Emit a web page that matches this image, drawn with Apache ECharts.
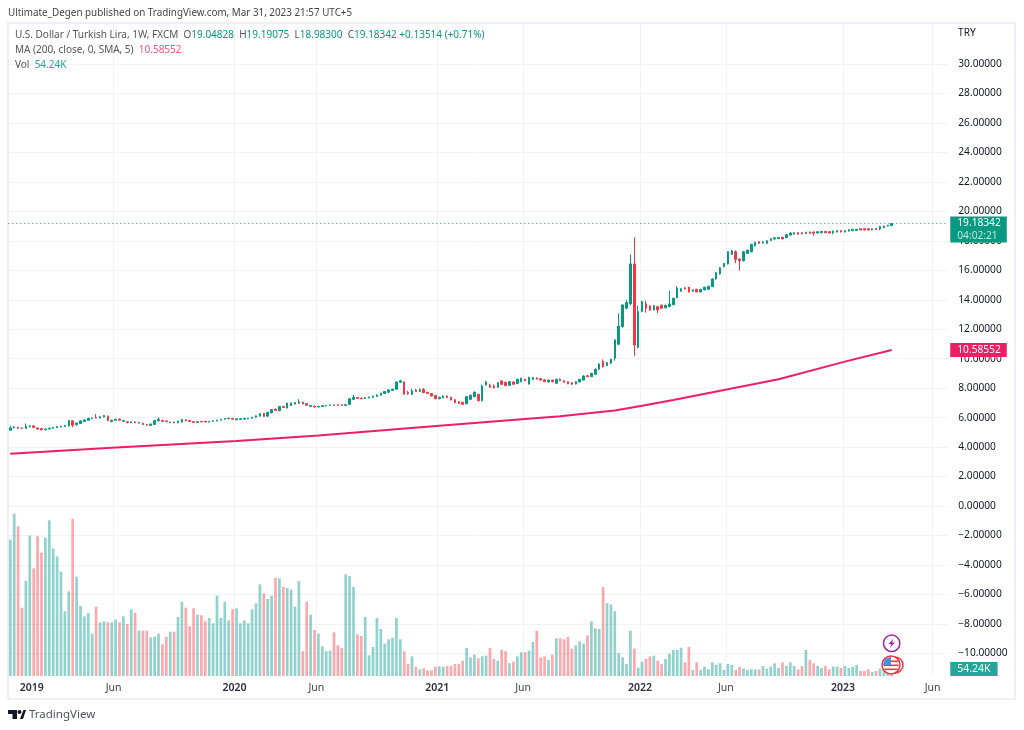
<!DOCTYPE html>
<html>
<head>
<meta charset="utf-8">
<title>USD/TRY</title>
<style>
  html, body { margin: 0; padding: 0; background: #fff; }
  #main { width: 1024px; height: 730px; }
</style>
<script src="https://cdn.jsdelivr.net/npm/echarts@6/dist/echarts.min.js"></script>
</head>
<body>
<div id="main"></div>
<script>
// weekly bars, first bar is the week of 26 Nov 2018
const firstWeek = '2018-11-26'
const slotCount = 241 // bars plus empty space on the right

const opens = [
  5.15,5.30,5.34,5.29,5.27,5.38,5.44,5.30,5.26,5.17,
  5.23,5.28,5.33,5.37,5.40,5.44,5.78,5.52,5.60,5.74,
  5.82,5.93,6.02,5.97,6.04,6.10,5.74,5.82,5.90,5.75,
  5.72,5.65,5.71,5.63,5.62,5.54,5.47,5.54,5.78,5.82,
  5.77,5.65,5.70,5.65,5.70,5.85,5.81,5.73,5.67,5.75,
  5.75,5.70,5.75,5.78,5.83,5.89,5.92,5.94,5.85,5.87,
  5.90,5.91,5.96,6.03,6.10,6.28,6.10,6.33,6.58,6.47,
  6.76,6.65,6.82,6.92,6.98,7.05,6.95,6.76,6.78,6.72,
  6.76,6.79,6.82,6.86,6.87,6.87,6.83,6.90,7.24,7.36,
  7.32,7.30,7.34,7.38,7.44,7.52,7.64,7.72,7.85,7.92,
  8.40,8.42,7.70,7.58,7.88,7.78,7.92,7.72,7.64,7.50,
  7.28,7.34,7.46,7.38,7.22,7.08,7.04,6.94,7.24,7.42,
  7.58,7.15,8.22,8.19,8.15,8.06,8.49,8.40,8.19,8.42,
  8.32,8.44,8.60,8.28,8.60,8.69,8.64,8.57,8.42,8.55,
  8.33,8.60,8.50,8.44,8.37,8.28,8.42,8.55,8.84,8.78,
  8.95,9.28,9.80,9.53,9.69,10.03,10.98,12.18,13.42,13.72,
  16.43,10.77,13.20,13.72,13.58,13.31,13.53,13.63,13.45,13.54,
  13.67,14.15,14.58,14.80,14.85,14.58,14.71,14.53,14.67,14.71,
  14.89,15.41,15.75,16.25,16.43,17.08,17.26,16.76,16.65,17.15,
  17.26,17.67,17.94,17.85,17.83,18.03,18.12,18.15,18.24,18.21,
  18.39,18.46,18.55,18.55,18.49,18.60,18.60,18.53,18.55,18.64,
  18.62,18.55,18.60,18.69,18.60,18.66,18.69,18.71,18.82,18.82,
  18.82,18.74,18.84,18.80,18.90,19.00,19.04828
]
const closes = [
  5.30,5.36,5.28,5.26,5.42,5.44,5.33,5.22,5.17,5.23,
  5.28,5.34,5.39,5.41,5.47,5.80,5.48,5.63,5.78,5.84,
  5.95,5.97,5.97,6.06,6.14,5.80,5.82,5.89,5.82,5.80,
  5.65,5.71,5.65,5.68,5.53,5.49,5.56,5.80,5.88,5.75,
  5.72,5.70,5.64,5.76,5.88,5.78,5.74,5.67,5.72,5.71,
  5.70,5.75,5.79,5.83,5.89,5.94,5.96,5.89,5.92,5.92,
  5.95,5.96,6.03,6.12,6.27,6.08,6.36,6.55,6.49,6.76,
  6.68,6.99,7.00,7.02,7.07,6.93,6.84,6.82,6.72,6.76,
  6.81,6.83,6.86,6.82,6.83,6.83,6.88,7.28,7.38,7.30,
  7.28,7.36,7.40,7.46,7.54,7.66,7.77,7.88,7.93,8.42,
  8.50,7.60,7.62,7.82,7.78,7.90,7.70,7.64,7.47,7.28,
  7.38,7.46,7.36,7.20,7.02,6.97,6.90,7.42,7.52,7.72,
  7.15,8.14,8.42,8.06,8.02,8.37,8.26,8.17,8.44,8.26,
  8.60,8.67,8.51,8.73,8.72,8.62,8.55,8.44,8.55,8.44,
  8.60,8.51,8.40,8.30,8.26,8.44,8.60,8.82,8.78,9.00,
  9.28,9.64,9.46,9.73,9.96,11.27,12.22,13.65,13.81,16.43,
  10.93,13.20,13.87,13.42,13.31,13.60,13.31,13.42,13.63,13.72,
  14.10,14.78,14.74,14.74,14.53,14.67,14.53,14.71,14.85,14.92,
  15.41,15.84,16.17,16.47,17.26,17.31,16.74,16.65,17.26,17.37,
  17.76,17.90,17.83,17.93,18.00,18.14,18.21,18.23,18.13,18.42,
  18.53,18.55,18.46,18.47,18.58,18.51,18.52,18.62,18.64,18.55,
  18.53,18.66,18.69,18.60,18.69,18.75,18.78,18.78,18.74,18.74,
  18.74,18.82,18.76,18.96,19.00,19.06,19.18342
]
const lows = [
  5.12,5.27,5.24,5.22,5.24,5.34,5.30,5.18,5.14,5.14,
  5.20,5.25,5.30,5.34,5.37,5.40,5.35,5.45,5.58,5.70,
  5.80,5.90,5.95,5.94,6.02,5.76,5.68,5.79,5.79,5.72,
  5.62,5.63,5.62,5.60,5.50,5.47,5.45,5.50,5.75,5.72,
  5.70,5.63,5.62,5.62,5.68,5.75,5.72,5.65,5.65,5.69,
  5.68,5.68,5.73,5.76,5.81,5.87,5.90,5.87,5.83,5.85,
  5.88,5.89,5.94,6.01,6.08,6.05,6.08,6.30,6.46,6.44,
  6.65,6.62,6.80,6.90,6.95,6.90,6.80,6.73,6.69,6.69,
  6.73,6.77,6.80,6.79,6.80,6.80,6.80,6.86,7.20,7.27,
  7.25,7.27,7.31,7.35,7.41,7.49,7.61,7.69,7.82,7.89,
  8.36,7.55,7.55,7.55,7.74,7.75,7.66,7.60,7.44,7.25,
  7.25,7.32,7.33,7.17,6.98,6.94,6.88,6.90,7.20,7.38,
  7.10,7.10,8.18,8.02,7.98,8.02,8.22,8.14,8.16,8.23,
  8.28,8.40,8.47,8.24,8.57,8.59,8.52,8.41,8.38,8.40,
  8.30,8.48,8.37,8.27,8.23,8.25,8.40,8.52,8.75,8.75,
  8.92,9.25,9.40,9.48,9.65,9.87,10.93,12.10,13.35,13.62,
  10.19,10.70,13.15,13.13,13.25,13.28,13.10,13.38,13.42,13.50,
  13.63,14.10,14.55,14.70,14.50,14.55,14.50,14.50,14.64,14.68,
  14.85,15.38,15.72,16.20,16.40,17.05,16.48,15.98,16.60,17.10,
  17.22,17.62,17.80,17.82,17.80,18.00,18.09,18.12,18.10,18.18,
  18.36,18.43,18.43,18.44,18.46,18.48,18.35,18.50,18.52,18.52,
  18.50,18.45,18.57,18.57,18.57,18.63,18.66,18.68,18.71,18.71,
  18.71,18.71,18.73,18.72,18.87,18.97,18.983
]
const highs = [
  5.45,5.42,5.38,5.34,5.60,5.50,5.47,5.33,5.29,5.27,
  5.31,5.36,5.41,5.44,5.50,5.84,5.82,5.68,5.82,5.88,
  5.99,6.01,6.24,6.09,6.18,6.14,5.86,5.92,5.93,5.83,
  5.75,5.74,5.74,5.71,5.65,5.57,5.60,5.83,6.02,5.85,
  5.80,5.73,5.72,5.79,5.91,5.88,5.84,5.76,5.74,5.77,
  5.78,5.77,5.81,5.85,5.92,5.96,5.98,5.97,5.94,5.94,
  5.97,5.98,6.05,6.14,6.30,6.32,6.40,6.58,6.60,6.78,
  6.79,7.02,7.03,7.05,7.25,7.08,6.98,6.85,6.81,6.79,
  6.84,6.86,6.89,6.89,6.90,6.90,6.91,7.32,7.55,7.39,
  7.35,7.39,7.43,7.49,7.57,7.69,7.80,7.91,7.96,8.45,
  8.56,8.45,7.82,7.98,7.95,7.98,8.00,7.75,7.67,7.54,
  7.42,7.50,7.50,7.42,7.25,7.12,7.07,7.46,7.56,7.78,
  7.62,8.25,8.50,8.30,8.25,8.42,8.55,8.44,8.48,8.46,
  8.64,8.72,8.64,8.78,8.76,8.73,8.68,8.60,8.58,8.58,
  8.64,8.66,8.53,8.46,8.40,8.47,8.63,8.88,8.90,9.05,
  9.35,9.70,9.95,9.78,10.00,11.32,13.08,13.70,14.00,17.07,
  18.24,13.60,13.95,13.94,13.62,13.65,13.60,13.68,13.66,14.60,
  14.14,14.94,14.78,14.86,14.88,14.70,14.74,14.74,14.88,14.95,
  15.45,15.88,16.22,16.50,17.30,17.40,17.35,16.80,17.30,17.40,
  17.80,17.95,18.00,17.96,18.03,18.17,18.24,18.26,18.27,18.45,
  18.60,18.58,18.58,18.58,18.61,18.63,18.63,18.65,18.67,18.67,
  18.65,18.69,18.72,18.72,18.72,18.78,18.81,18.81,18.85,18.85,
  18.85,18.85,18.87,19.02,19.03,19.09,19.19075
]
// volume in thousands
const volumes = [
  2454,2922,2694,1230,1710,2526,1938,2514,2220,2490,
  2802,2292,2154,1878,1164,1524,2832,1788,1260,1074,
  1134,762,1248,966,984,966,966,1014,966,1074,
  936,1200,1134,816,816,816,696,708,762,570,
  708,798,798,1062,1338,1230,894,1218,1104,1092,
  984,1044,948,1446,1044,1338,1002,1200,1218,948,
  1002,948,1200,1308,1650,1488,1386,1446,1770,1758,
  1602,1584,1554,1248,1710,444,1338,1104,828,762,
  534,444,456,786,552,504,1830,1800,1602,750,
  720,1062,372,522,1044,846,582,660,690,1044,
  660,444,216,354,168,120,138,102,102,168,
  174,168,180,180,216,216,276,504,336,384,
  318,354,366,504,306,276,474,444,228,258,
  354,426,426,456,612,816,336,354,288,384,
  678,678,660,708,492,552,624,582,732,984,
  858,846,1602,1308,1290,1164,414,336,216,816,
  492,150,258,306,354,366,276,216,306,402,
  468,468,510,246,522,108,246,108,168,120,
  246,198,228,108,216,198,108,168,132,108,
  120,120,120,180,132,168,228,144,246,180,
  246,180,120,180,468,288,228,180,144,180,
  120,168,168,144,180,144,168,198,90,90,
  120,72,90,132,108,108,54.24
]
// MA(200) read at a few bars along the line
const maBars = [0, 26, 58, 79, 110, 132, 141, 155, 162, 170, 184, 197, 214, 226]
const maValues = [3.55, 3.96, 4.41, 4.78, 5.45, 5.91, 6.10, 6.48, 6.81, 7.2, 7.92, 8.6, 9.8, 10.58552]

const priceTicks = [-10, -8, -6, -4, -2, 0, 2, 4, 6, 8, 10, 12, 14, 16, 18, 20, 22, 24, 26, 28, 30]
const timeTickBars = [6, 27, 58, 79, 110, 132, 162, 184, 214, 237]
const timeTickLabels = ['2019', 'Jun', '2020', 'Jun', '2021', 'Jun', '2022', 'Jun', '2023', 'Jun']

const lastClose = 19.18342
const lastMa = 10.58552
const lastVolume = 54.24

const green = '#089981'
const red = '#f23645'
const pink = '#ec1e64'
const teal = '#26a69a'
const gridColor = '#f2f3f6'
const fontName = '"Noto Sans", sans-serif'

// week labels for the category axis
const weeks = []
for (let i = 0; i < slotCount; i++) {
  const d = new Date(firstWeek + 'T00:00:00Z')
  d.setUTCDate(d.getUTCDate() + i * 7)
  weeks.push(d.toISOString().slice(0, 10))
}

const candleData = opens.map((o, i) => [o, closes[i], lows[i], highs[i]])
const volumeData = volumes.map((v, i) => ({
  value: v,
  itemStyle: { color: closes[i] >= opens[i] ? 'rgba(38,166,154,0.5)' : 'rgba(247,82,95,0.5)' }
}))
const maData = maBars.map((b, i) => [b, maValues[i]])

const isTimeTick = (index) => timeTickBars.includes(index)

const chart = echarts.init(document.getElementById('main'))

const option = {
  animation: false,
  backgroundColor: '#fff',
  textStyle: { fontFamily: fontName },
  grid: { left: 8.35, top: 24, width: 939.9, height: 652 },
  xAxis: {
    type: 'category',
    data: weeks,
    boundaryGap: true,
    axisLine: { show: false },
    axisTick: { show: false },
    splitLine: {
      show: true,
      interval: (index) => isTimeTick(index),
      showMinLine: false,
      showMaxLine: false,
      lineStyle: { color: gridColor, width: 1 }
    },
    axisLabel: {
      interval: (index) => isTimeTick(index),
      margin: 7,
      padding: [0, 4, 0, 0],
      color: '#40434d',
      fontSize: 10.5,
      fontFamily: fontName,
      hideOverlap: false,
      formatter: (value, index) => {
        const t = timeTickLabels[timeTickBars.indexOf(index)]
        return t === 'Jun' ? t : '{year|' + t + '}'
      },
      rich: { year: { color: '#2a2e39', fontSize: 10.5, fontWeight: 600, fontFamily: fontName } }
    }
  },
  yAxis: [
    {
      type: 'value',
      position: 'right',
      min: -11.54,
      max: 32.72,
      axisLine: { show: false },
      axisTick: { show: false, customValues: priceTicks },
      splitLine: { show: true, lineStyle: { color: gridColor, width: 1 } },
      axisLabel: {
        customValues: priceTicks,
        margin: 10,
        padding: [2, 0, 0, 0],
        color: '#131722',
        fontSize: 10.2,
        fontFamily: fontName,
        formatter: (v) => v.toFixed(5).replace('-', '\u2212')
      }
    },
    { type: 'value', show: false, min: 0, max: 11736, splitLine: { show: false } }
  ],
  series: [
    {
      name: 'Vol',
      type: 'bar',
      yAxisIndex: 1,
      barWidth: 2.7,
      data: volumeData,
      z: 1,
      markLine: {
        silent: true,
        symbol: 'none',
        lineStyle: { color: 'transparent', width: 0 },
        data: [{ yAxis: lastVolume }],
        label: {
          position: 'end',
          distance: 2,
          offset: [0, -4],
          formatter: lastVolume + 'K',
          color: '#fff',
          backgroundColor: teal,
          padding: [1, 7, 1, 7],
          fontSize: 10.5,
          lineHeight: 12,
          fontFamily: fontName
        }
      }
    },
    {
      name: 'USD/TRY',
      type: 'candlestick',
      barWidth: 2,
      data: candleData,
      z: 3,
      itemStyle: { color: green, color0: red, borderColor: green, borderColor0: red, borderWidth: 1 },
      markLine: {
        silent: true,
        symbol: 'none',
        lineStyle: { color: green, type: [1, 3], width: 1 },
        data: [{ yAxis: lastClose }],
        label: {
          position: 'end',
          distance: 2,
          offset: [0, 6],
          formatter: '{p|19.18342}\n{t|04:02:21}',
          backgroundColor: green,
          padding: [0, 6, 0, 7],
          fontFamily: fontName,
          rich: {
            p: { color: '#fff', fontSize: 10.2, lineHeight: 13, fontFamily: fontName },
            t: { color: 'rgba(255,255,255,0.75)', fontSize: 10.2, lineHeight: 13, fontFamily: fontName }
          }
        }
      }
    },
    {
      name: 'MA',
      type: 'line',
      data: maData,
      showSymbol: false,
      symbol: 'none',
      smooth: false,
      z: 4,
      lineStyle: { color: pink, width: 2 },
      markLine: {
        silent: true,
        symbol: 'none',
        lineStyle: { color: 'transparent', width: 0 },
        data: [{ yAxis: lastMa }],
        label: {
          position: 'end',
          distance: 2,
          formatter: '10.58552',
          color: '#fff',
          backgroundColor: pink,
          padding: [1, 6, 1, 7],
          fontSize: 10.2,
          lineHeight: 12,
          fontFamily: fontName
        }
      }
    }
  ],
  graphic: [
    // frame round the chart
    { type: 'rect', silent: true, z: 0, shape: { x: 8, y: 23, width: 1007, height: 676 }, style: { fill: 'none', stroke: '#eef0f6', lineWidth: 2 } },
    { type: 'text', silent: true, x: 8, y: 13, style: { text: 'Ultimate_Degen published on TradingView.com, Mar 31, 2023 21:57 UTC+5', fill: '#444', font: '9.85px ' + fontName, textVerticalAlign: 'middle' } },
    {
      type: 'text', silent: true, x: 15, y: 35, z: 10,
      style: {
        text: '{l|U.S. Dollar / Turkish Lira, 1W, FXCM  O}{g|19.04828}{l|  H}{g|19.19075}{l|  L}{g|18.98300}{l|  C}{g|19.18342 +0.13514 (+0.71%)}',
        verticalAlign: 'middle',
        rich: {
          l: { fill: '#555', fontSize: 10, fontFamily: fontName },
          g: { fill: green, fontSize: 10, fontFamily: fontName }
        }
      }
    },
    {
      type: 'text', silent: true, x: 15, y: 50, z: 10,
      style: {
        text: '{l|MA (200, close, 0, SMA, 5)  }{p|10.58552}',
        verticalAlign: 'middle',
        rich: {
          l: { fill: '#555', fontSize: 10, fontFamily: fontName },
          p: { fill: '#f2557f', fontSize: 10, fontFamily: fontName }
        }
      }
    },
    {
      type: 'text', silent: true, x: 15, y: 65, z: 10,
      style: {
        text: '{l|Vol  }{t|54.24K}',
        verticalAlign: 'middle',
        rich: {
          l: { fill: '#555', fontSize: 10, fontFamily: fontName },
          t: { fill: teal, fontSize: 10, fontFamily: fontName }
        }
      }
    },
    { type: 'text', silent: true, x: 958, y: 33, style: { text: 'TRY', fill: '#131722', font: '10.2px ' + fontName, textVerticalAlign: 'middle' } },
    // TradingView logo
    { type: 'polygon', silent: true, shape: { points: [[8, 710], [17, 710], [17, 719], [12.5, 719], [12.5, 714], [8, 714]] }, style: { fill: '#131722' } },
    { type: 'circle', silent: true, shape: { cx: 19.5, cy: 712, r: 2 }, style: { fill: '#131722' } },
    { type: 'polygon', silent: true, shape: { points: [[20, 719], [23.5, 710], [26, 710], [23, 719]] }, style: { fill: '#131722' } },
    { type: 'text', silent: true, x: 29, y: 715, style: { text: 'TradingView', fill: '#50535e', font: '11.5px ' + fontName, textVerticalAlign: 'middle' } },
    // lightning badge
    { type: 'circle', silent: true, z: 20, shape: { cx: 891.7, cy: 643.3, r: 8.2 }, style: { fill: '#fff', stroke: '#9c27b0', lineWidth: 1.5 } },
    { type: 'polygon', silent: true, z: 21, shape: { points: [[893.5, 638.5], [888.5, 644], [891.3, 644], [889.8, 648], [894.8, 642.5], [892, 642.5]] }, style: { fill: '#9c27b0' } },
    // US event badges
    { type: 'circle', silent: true, z: 20, shape: { cx: 895, cy: 665, r: 8 }, style: { fill: '#fff', stroke: '#f23645', lineWidth: 1.5 } },
    { type: 'circle', silent: true, z: 21, shape: { cx: 891, cy: 665, r: 9 }, style: { fill: '#fff', stroke: '#f23645', lineWidth: 1.5 } },
    { type: 'rect', silent: true, z: 22, shape: { x: 885, y: 660.5, width: 13, height: 1.6 }, style: { fill: '#f23645' } },
    { type: 'rect', silent: true, z: 22, shape: { x: 883.5, y: 664.5, width: 15, height: 1.6 }, style: { fill: '#f23645' } },
    { type: 'rect', silent: true, z: 22, shape: { x: 884.5, y: 668.5, width: 13, height: 1.6 }, style: { fill: '#f23645' } },
    { type: 'sector', silent: true, z: 23, shape: { cx: 891, cy: 665, r: 8, r0: 0, startAngle: Math.PI, endAngle: Math.PI * 1.5 }, style: { fill: '#4a90e2' } }
  ]
}

chart.setOption(option)
</script>
</body>
</html>
